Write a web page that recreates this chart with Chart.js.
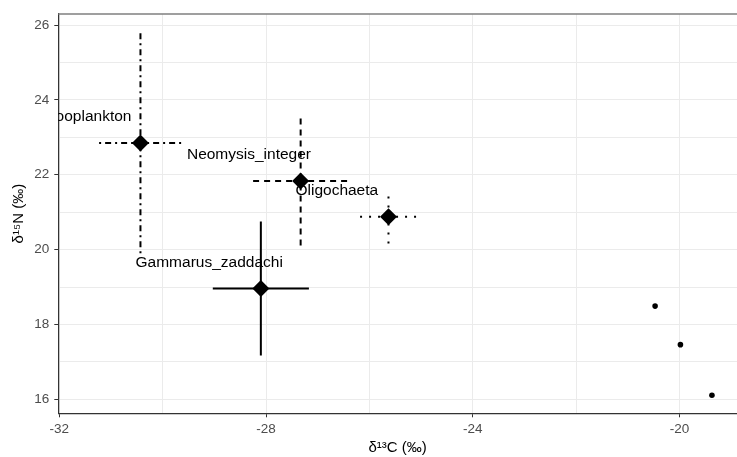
<!DOCTYPE html>
<html>
<head>
<meta charset="utf-8">
<script src="https://cdn.jsdelivr.net/npm/chart.js@4"></script>
<style>
  html, body { margin: 0; padding: 0; background: #fff; }
  #wrap { width: 737px; height: 457px; }
</style>
</head>
<body>
<div id="wrap"><canvas id="isoChart" width="737" height="457"></canvas></div>
<script>
// Group means and SDs (d13C / d15N)
const species = ['Zooplankton', 'Neomysis_integer', 'Oligochaeta', 'Gammarus_zaddachi'];
const meanC = [-30.43, -27.33, -25.63, -28.10];
const meanN = [22.85, 21.83, 20.88, 18.96];
const sdC = [0.80, 0.92, 0.55, 0.93];
const sdN = [2.95, 1.72, 0.72, 1.79];

// Single samples
const sampleC = [-20.47, -19.98, -19.37];
const sampleN = [18.49, 17.46, 16.11];

// Axis ticks
const xTicks = [-32, -28, -24, -20];
const yTicks = [16, 18, 20, 22, 24, 26];
const xMinor = [-30, -26, -22];
const yMinor = [17, 19, 21, 23, 25];

// line type per group: dotdash, dashed, dotted, solid
const lineDash = [[2, 4, 6, 4], [6, 5], [2, 7], []];
const labelNudge = { x: -1, y: 0.7 };

const gridCol = '#ebebeb';
const axisCol = '#333333';
const tickTextCol = '#4d4d4d';
const fontFam = '"Liberation Sans", Arial, sans-serif';

const errDatasets = [];
species.forEach((s, i) => {
  const style = { type: 'line', borderColor: '#000', borderWidth: 2, borderDash: lineDash[i],
    pointRadius: 0, fill: false, tension: 0, order: 5, borderCapStyle: 'butt' };
  errDatasets.push(Object.assign({ data: [{ x: meanC[i] - sdC[i], y: meanN[i] }, { x: meanC[i] + sdC[i], y: meanN[i] }] }, style));
  errDatasets.push(Object.assign({ data: [{ x: meanC[i], y: meanN[i] - sdN[i] }, { x: meanC[i], y: meanN[i] + sdN[i] }] }, style));
});

const ptLabels = {
  id: 'ptLabels',
  afterDatasetsDraw(chart) {
    const { ctx, chartArea, scales } = chart;
    ctx.save();
    ctx.beginPath();
    ctx.rect(chartArea.left, chartArea.top, chartArea.right - chartArea.left, chartArea.bottom - chartArea.top);
    ctx.clip();
    ctx.font = '15.5px ' + fontFam;
    ctx.fillStyle = '#000';
    ctx.textAlign = 'center';
    ctx.textBaseline = 'middle';
    species.forEach((s, i) => {
      ctx.fillText(s, scales.x.getPixelForValue(meanC[i] + labelNudge.x), scales.y.getPixelForValue(meanN[i] + labelNudge.y));
    });
    ctx.restore();
  }
};

// panel top edge
const panelTop = {
  id: 'panelTop',
  afterDraw(chart) {
    const { ctx, chartArea } = chart;
    ctx.save();
    ctx.strokeStyle = '#7f7f7f';
    ctx.lineWidth = 1.5;
    ctx.beginPath();
    ctx.moveTo(chartArea.left, chartArea.top);
    ctx.lineTo(chartArea.right, chartArea.top);
    ctx.stroke();
    ctx.restore();
  }
};

const tickList = (major, minor) => major.concat(minor).sort((a, b) => a - b).map(v => ({ value: v }));

new Chart(document.getElementById('isoChart'), {
  type: 'scatter',
  data: {
    datasets: [
      { data: meanC.map((c, i) => ({ x: c, y: meanN[i] })), pointStyle: 'rectRot', pointRadius: 8.5,
        backgroundColor: '#000', borderWidth: 0, order: 1 },
      { data: sampleC.map((c, i) => ({ x: c, y: sampleN[i] })), pointStyle: 'circle', pointRadius: 2.8,
        backgroundColor: '#000', borderWidth: 0, order: 1 }
    ].concat(errDatasets)
  },
  options: {
    responsive: false,
    animation: false,
    layout: { autoPadding: false, padding: { top: 14, right: 0, left: 0, bottom: 0 } },
    plugins: { legend: { display: false }, tooltip: { enabled: false } },
    scales: {
      x: {
        type: 'linear', min: -32.02, max: -18.885,
        afterBuildTicks: s => { s.ticks = tickList(xTicks, xMinor); },
        afterFit: s => { s.height = 43.7; s.paddingLeft = 0; s.paddingRight = 0; },
        ticks: {
          autoSkip: false, maxRotation: 0, padding: 4, color: tickTextCol,
          font: { family: fontFam, size: 13.5 },
          callback: v => xTicks.includes(v) ? String(v) : ''
        },
        grid: {
          color: gridCol, lineWidth: 1, tickLength: 4,
          tickColor: c => xTicks.includes(c.tick && c.tick.value) ? axisCol : 'transparent'
        },
        border: { display: true, color: axisCol, width: 1.2 },
        title: {
          display: true, text: 'δ¹³C (‰)', color: '#000', padding: { top: 0, bottom: 0 },
          font: { family: fontFam, size: 15 }
        }
      },
      y: {
        type: 'linear', min: 15.626, max: 26.294,
        afterBuildTicks: s => { s.ticks = tickList(yTicks, yMinor); },
        afterFit: s => { s.width = 58.3; s.paddingTop = 0; s.paddingBottom = 0; },
        ticks: {
          autoSkip: false, padding: 5, color: tickTextCol,
          font: { family: fontFam, size: 13.5 },
          callback: v => yTicks.includes(v) ? String(v) : ''
        },
        grid: {
          color: gridCol, lineWidth: 1, tickLength: 4,
          tickColor: c => yTicks.includes(c.tick && c.tick.value) ? axisCol : 'transparent'
        },
        border: { display: true, color: axisCol, width: 1.2 },
        title: {
          display: true, text: 'δ¹⁵N (‰)', color: '#000', padding: { top: 10, bottom: 0 },
          font: { family: fontFam, size: 15 }
        }
      }
    }
  },
  plugins: [ptLabels, panelTop]
});
</script>
</body>
</html>
